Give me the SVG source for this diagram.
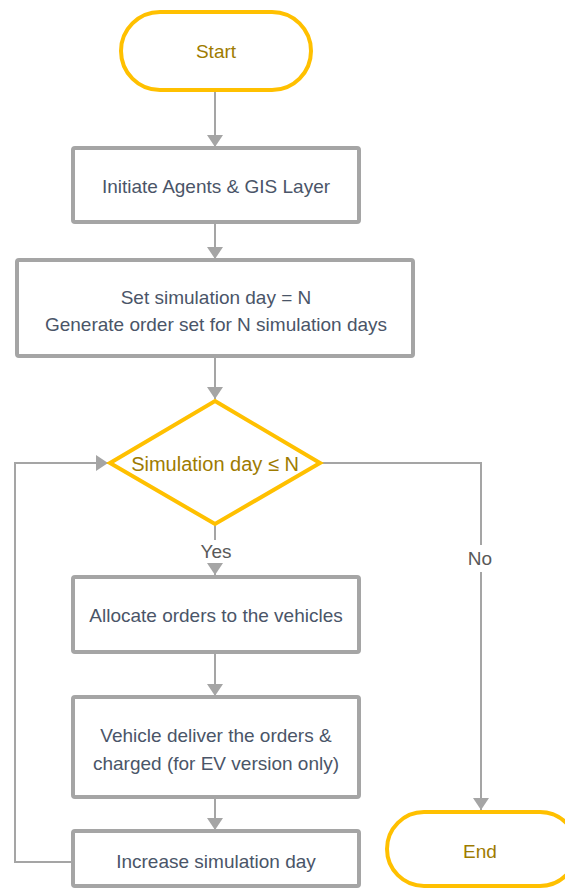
<svg xmlns="http://www.w3.org/2000/svg" width="565" height="889" viewBox="0 0 565 889">
  <style>
    .term { fill: #ffffff; stroke: #FFC000; stroke-width: 4; }
    .proc { fill: #ffffff; stroke: #A5A5A5; stroke-width: 4; }
    .dec { fill: #ffffff; stroke: #FFC000; stroke-width: 4; stroke-linejoin: miter; }
    .edge { fill: none; stroke: #A5A5A5; stroke-width: 2; }
    text { font-family: "Liberation Sans", Arial, sans-serif; font-size: 19px; text-anchor: middle; dominant-baseline: central; }
    .t-proc { fill: #4A5568; }
    .t-term { fill: #9E7B00; }
    .t-lbl { fill: #595959; }
  </style>
  <defs>
    <marker id="arrow" viewBox="0 0 12 16" refX="12" refY="8" markerWidth="6" markerHeight="8" markerUnits="strokeWidth" orient="auto">
      <path d="M0,0 L12,8 L0,16 z" fill="#A5A5A5"/>
    </marker>
  </defs>

  <g id="connectors">
    <line class="edge" x1="215" y1="90" x2="215" y2="147" marker-end="url(#arrow)"/>
    <line class="edge" x1="215" y1="222" x2="215" y2="259" marker-end="url(#arrow)"/>
    <line class="edge" x1="215" y1="356" x2="215" y2="399" marker-end="url(#arrow)"/>
    <line class="edge" x1="215" y1="525" x2="215" y2="540"/>
    <line class="edge" x1="215" y1="563" x2="215" y2="575" marker-end="url(#arrow)"/>
    <line class="edge" x1="215" y1="652" x2="215" y2="696" marker-end="url(#arrow)"/>
    <line class="edge" x1="215" y1="797" x2="215" y2="830" marker-end="url(#arrow)"/>
    <polyline class="edge" points="73,862 15,862 15,463 108,463" marker-end="url(#arrow)"/>
    <polyline class="edge" points="320,463 481,463 481,545"/>
    <line class="edge" x1="481" y1="572" x2="481" y2="810" marker-end="url(#arrow)"/>
    <text class="t-lbl" x="216" y="551">Yes</text>
    <text class="t-lbl" x="480" y="558">No</text>
  </g>

  <g id="start">
    <rect class="term" x="121" y="12" width="190" height="78" rx="39"/>
    <text class="t-term" x="216" y="51">Start</text>
  </g>

  <g id="init">
    <rect class="proc" x="73" y="148" width="286" height="74" rx="2"/>
    <text class="t-proc" x="216" y="186">Initiate Agents &amp; GIS Layer</text>
  </g>

  <g id="setup">
    <rect class="proc" x="17" y="260" width="396" height="96" rx="2"/>
    <text class="t-proc" x="216" y="297">Set simulation day = N</text>
    <text class="t-proc" x="216" y="324">Generate order set for N simulation days</text>
  </g>

  <g id="check">
    <polygon class="dec" points="215,401 320,463 215,524 110,463"/>
    <text class="t-term" x="215" y="464" style="font-size:20px">Simulation day ≤ N</text>
  </g>

  <g id="allocate">
    <rect class="proc" x="73" y="577" width="286" height="75" rx="2"/>
    <text class="t-proc" x="216" y="615">Allocate orders to the vehicles</text>
  </g>

  <g id="deliver">
    <rect class="proc" x="73" y="697" width="286" height="100" rx="2"/>
    <text class="t-proc" x="216" y="735">Vehicle deliver the orders &amp;</text>
    <text class="t-proc" x="216" y="763">charged (for EV version only)</text>
  </g>

  <g id="increase">
    <rect class="proc" x="73" y="831" width="286" height="55" rx="2"/>
    <text class="t-proc" x="216" y="861">Increase simulation day</text>
  </g>

  <g id="end">
    <rect class="term" x="387" y="812" width="190" height="74" rx="37"/>
    <text class="t-term" x="480" y="851">End</text>
  </g>
</svg>
